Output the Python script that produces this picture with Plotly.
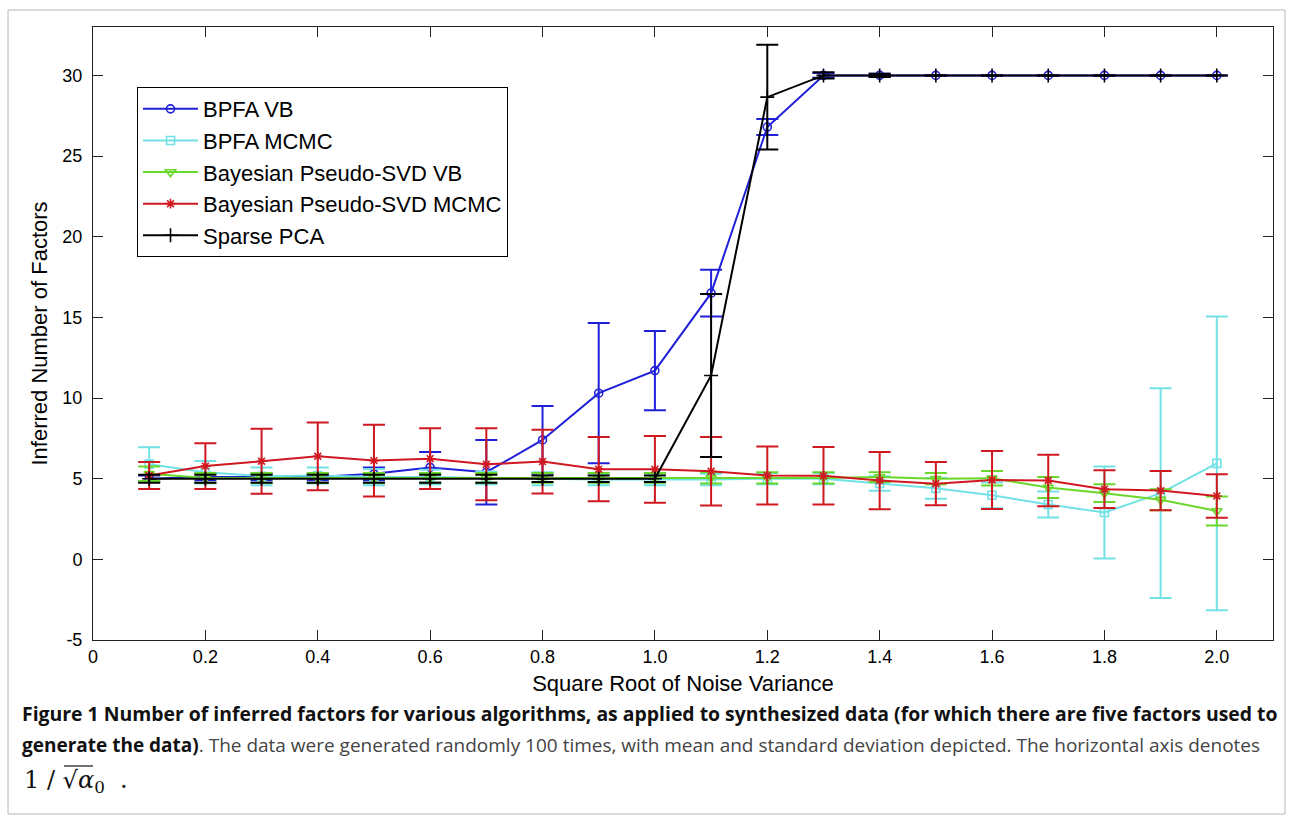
import plotly.graph_objects as go

# ---------------- data ----------------
noise = [0.1, 0.2, 0.3, 0.4, 0.5, 0.6, 0.7, 0.8, 0.9, 1.0,
         1.1, 1.2, 1.3, 1.4, 1.5, 1.6, 1.7, 1.8, 1.9, 2.0]

bpfa_vb_mean = [5.0, 5.1, 5.1, 5.1, 5.3, 5.7, 5.4, 7.4, 10.3, 11.7,
                16.5, 26.8, 30.0, 30.0, 30.0, 30.0, 30.0, 30.0, 30.0, 30.0]
bpfa_vb_std = [0.2, 0.2, 0.2, 0.2, 0.4, 0.95, 2.0, 2.1, 4.35, 2.45,
               1.45, 0.5, 0.15, 0.1, 0.0, 0.0, 0.0, 0.0, 0.0, 0.0]

bpfa_mcmc_mean = [5.9, 5.4, 5.15, 5.2, 5.1, 5.1, 5.05, 5.0, 4.95, 4.95,
                  4.95, 5.0, 5.0, 4.7, 4.4, 3.97, 3.4, 2.9, 4.1, 5.95]
bpfa_mcmc_std = [1.05, 0.7, 0.55, 0.5, 0.5, 0.45, 0.4, 0.4, 0.35, 0.35,
                 0.35, 0.35, 0.35, 0.45, 0.65, 0.8, 0.8, 2.85, 6.5, 9.1]

bpsvd_vb_mean = [5.3, 5.05, 5.05, 5.05, 5.05, 5.05, 5.05, 5.05, 5.05, 5.05,
                 5.05, 5.05, 5.05, 5.1, 5.0, 5.03, 4.45, 4.1, 3.7, 3.0]
bpsvd_vb_std = [0.45, 0.3, 0.3, 0.3, 0.3, 0.3, 0.3, 0.3, 0.3, 0.3,
                0.35, 0.35, 0.35, 0.3, 0.35, 0.45, 0.65, 0.55, 0.65, 0.9]

bpsvd_mcmc_mean = [5.2, 5.78, 6.08, 6.39, 6.12, 6.24, 5.89, 6.06, 5.59, 5.58,
                   5.46, 5.2, 5.18, 4.88, 4.69, 4.92, 4.89, 4.35, 4.26, 3.93]
bpsvd_mcmc_std = [0.84, 1.42, 2.02, 2.1, 2.23, 1.88, 2.23, 1.98, 1.99, 2.07,
                  2.12, 1.8, 1.78, 1.77, 1.34, 1.8, 1.6, 1.17, 1.22, 1.35]

spca_mean = [5.0, 5.0, 5.0, 5.0, 5.0, 5.0, 5.0, 5.0, 5.0, 5.0,
             11.4, 28.65, 30.0, 30.0, 30.0, 30.0, 30.0, 30.0, 30.0, 30.0]
spca_std = [0.25, 0.25, 0.25, 0.25, 0.25, 0.25, 0.25, 0.2, 0.2, 0.2,
            5.05, 3.25, 0.2, 0.1, 0.0, 0.0, 0.0, 0.0, 0.0, 0.0]

x_tick_vals = [0, 0.2, 0.4, 0.6, 0.8, 1.0, 1.2, 1.4, 1.6, 1.8, 2.0]
x_tick_text = ["0", "0.2", "0.4", "0.6", "0.8", "1.0", "1.2", "1.4", "1.6", "1.8", "2.0"]
y_tick_vals = [-5, 0, 5, 10, 15, 20, 25, 30]
y_tick_text = ["-5", "0", "5", "10", "15", "20", "25", "30"]

series = [
    ("BPFA VB", bpfa_vb_mean, bpfa_vb_std, "#2020d8", "circle-open", 8),
    ("BPFA MCMC", bpfa_mcmc_mean, bpfa_mcmc_std, "#72e2e6", "square-open", 8),
    ("Bayesian Pseudo-SVD VB", bpsvd_vb_mean, bpsvd_vb_std, "#6ad82a", "triangle-down-open", 9),
    ("Bayesian Pseudo-SVD MCMC", bpsvd_mcmc_mean, bpsvd_mcmc_std, "#d01820", "asterisk-open", 8),
    ("Sparse PCA", spca_mean, spca_std, "#000000", "cross-thin-open", 10),
]

fig = go.Figure()
for name, m, s, col, sym, size in series:
    fig.add_trace(go.Scatter(
        x=noise, y=m, name=name, mode="lines+markers",
        line=dict(color=col, width=2),
        marker=dict(symbol=sym, size=size, color=col, line=dict(color=col, width=1.6)),
        error_y=dict(type="data", array=s, visible=True, color=col, thickness=2, width=11),
    ))

font_main = "Liberation Sans, Arial, sans-serif"

fig.update_layout(
    width=1290, height=819,
    margin=dict(l=93, r=17, t=27, b=179),
    paper_bgcolor="white", plot_bgcolor="white",
    font=dict(family=font_main, size=17, color="#000"),
    showlegend=True,
    legend=dict(
        x=0.0373, y=0.902, xanchor="left", yanchor="top",
        bordercolor="#000", borderwidth=1, bgcolor="white",
        font=dict(family=font_main, size=22, color="#000"),
        tracegroupgap=0, itemwidth=55,
    ),
    xaxis=dict(
        range=[0, 2.1], tickmode="array", tickvals=x_tick_vals, ticktext=x_tick_text,
        ticks="inside", ticklen=10, tickcolor="#222", showline=True, linecolor="#222",
        linewidth=1, mirror="ticks", showgrid=False, zeroline=False,
        tickfont=dict(size=18),
        title=dict(text="Square Root of Noise Variance", font=dict(size=22), standoff=10),
    ),
    yaxis=dict(
        range=[-5, 33], tickmode="array", tickvals=y_tick_vals, ticktext=y_tick_text,
        ticks="inside", ticklen=10, tickcolor="#222", showline=True, linecolor="#222",
        linewidth=1, mirror="ticks", showgrid=False, zeroline=False,
        tickfont=dict(size=18), ticklabelstandoff=6,
        title=dict(text="Inferred Number of Factors", font=dict(size=22), standoff=8),
    ),
)

# outer light border around the figure panel
fig.add_shape(type="rect", xref="paper", yref="paper",
              x0=(8 - 93) / 1180, x1=(1285 - 93) / 1180,
              y0=(640 - 814) / 613, y1=(640 - 10) / 613,
              line=dict(color="#b8b8b8", width=1), layer="below")

cap_font = "Open Sans, sans-serif"
fig.add_annotation(
    xref="paper", yref="paper", x=(20 - 93) / 1180, y=(640 - 713) / 613,
    xanchor="left", yanchor="middle", showarrow=False, align="left",
    text="<b>Figure 1 Number of inferred factors for various algorithms, as applied to synthesized data (for which there are five factors used to</b>",
    font=dict(family=cap_font, size=19.4, color="#111"),
)
fig.add_annotation(
    xref="paper", yref="paper", x=(20 - 93) / 1180, y=(640 - 745) / 613,
    xanchor="left", yanchor="middle", showarrow=False, align="left",
    text="<b>generate the data)</b><span style='color:#444'>. The data were generated randomly 100 times, with mean and standard deviation depicted. The horizontal axis denotes</span>",
    font=dict(family=cap_font, size=19, color="#111"),
)
fig.add_annotation(
    xref="paper", yref="paper", x=(22 - 93) / 1180, y=(640 - 781) / 613,
    xanchor="left", yanchor="middle", showarrow=False, align="left",
    text="1 / √<i>α</i><sub>0</sub>  .",
    font=dict(family="DejaVu Serif, serif", size=24, color="#111"),
)
# radical overbar
fig.add_shape(type="line", xref="paper", yref="paper",
              x0=(64 - 93) / 1180, x1=(93 - 93) / 1180,
              y0=(640 - 766) / 613, y1=(640 - 766) / 613,
              line=dict(color="#111", width=1.2))

fig.write_html("out.html", post_script="document.body.style.margin='0';",
               config={"displayModeBar": False})
